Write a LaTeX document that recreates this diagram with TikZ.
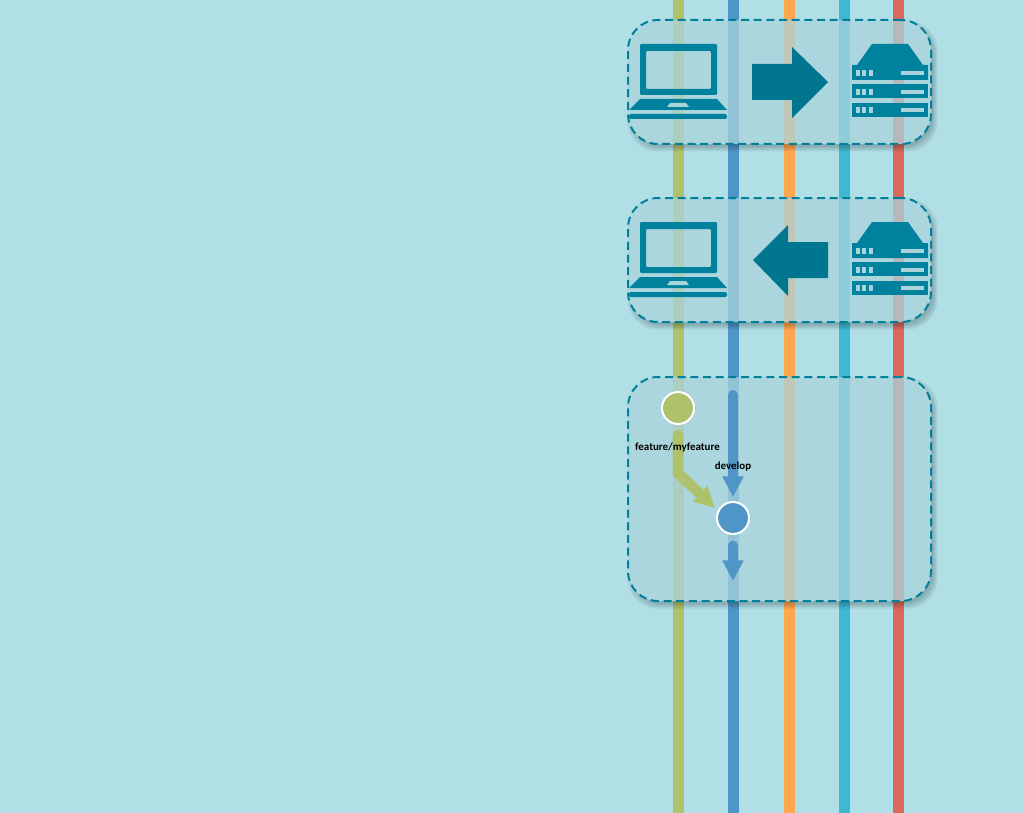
\documentclass[tikz,border=0pt]{standalone}
\usepackage{fontspec}
\setmainfont{Carlito}
\usepackage{xcolor}
\usetikzlibrary{positioning,calc,arrows.meta}

\definecolor{bgcolor}{HTML}{B0DFE6}
\definecolor{panelfill}{HTML}{ABD3DC}
\definecolor{tealicon}{HTML}{00829E}
\definecolor{tealarrow}{HTML}{007690}
\definecolor{tealdash}{HTML}{00809B}
\definecolor{branchgreen}{HTML}{AEC16B}
\definecolor{branchblue}{HTML}{4F95C8}
\definecolor{branchorange}{HTML}{FFA64F}
\definecolor{branchcyan}{HTML}{3FB8D4}
\definecolor{branchred}{HTML}{D9695B}

\tikzset{
    branch/.style={line width=8.25pt},
    panel/.style={rectangle, draw=tealdash, fill=panelfill, fill opacity=0.75, line width=1.5pt,
        dash pattern=on 6pt off 3.5pt, rounded corners=22.5pt, minimum width=227.25pt, inner sep=0pt},
    commit/.style={circle, draw=white, line width=1.5pt, minimum size=24pt, inner sep=0pt},
    flowgreen/.style={branchgreen, line width=8pt, line cap=round, line join=miter,
        -{Triangle[length=15.5pt,width=15pt]}},
    flowblue/.style={branchblue, line width=7.5pt, line cap=round,
        -{Triangle[length=15.5pt,width=15pt]}},
    tag/.style={font=\bfseries\fontsize{8.2}{9}\selectfont, text=black, inner sep=0pt}
}

% soft shadow round a panel, top and bottom in pixels
\newcommand{\panelshadow}[2]{
    \begin{scope}[even odd rule, rounded corners=22.5pt]
        \clip (-100,-100) rectangle (1124,913) (628,#1) rectangle (931,#2);
        \foreach \g in {3.5,2,0.5,-1}
            \fill[black, opacity=0.06] (631-\g,#1+4-\g) rectangle (934+\g,#2+4+\g);
    \end{scope}
}

\newcommand{\laptopicon}[1]{
    \begin{scope}[shift={(0,#1)}]
        \fill[tealicon, even odd rule, rounded corners=0.8pt] (640,44) rectangle (717,95)
            (646,51) rectangle (711,89);
        \fill[tealicon] (640,99) -- (717,99) -- (727,110) -- (629,110) -- cycle;
        \fill[panelfill] (670,103) -- (686,103) -- (689,107) -- (667,107) -- cycle;
        \fill[tealicon, rounded corners=1.5pt] (629,114) rectangle (727,119);
    \end{scope}
}

\newcommand{\servericon}[1]{
    \begin{scope}[shift={(0,#1)}]
        \fill[tealicon] (872,44) -- (908,44) -- (923,65) -- (928,65) -- (928,80)
            -- (852,80) -- (852,65) -- (857,65) -- cycle;
        \fill[tealicon] (852,84) rectangle (928,98);
        \fill[tealicon] (852,103) rectangle (928,117);
        \foreach \y in {70,89,107} {
            \foreach \x in {856,862,869}
                \fill[panelfill] (\x,\y) rectangle ++(4,6);
            \fill[panelfill] (901,\y+1) rectangle ++(23,4);
        }
    \end{scope}
}

\begin{document}
\begin{tikzpicture}[x=0.75pt, y=-0.75pt]
    \useasboundingbox (0,0) rectangle (1024,813);
    \fill[bgcolor] (0,0) rectangle (1024,813);

    % Branches
    \foreach \nm/\x/\col in {feature/678.5/branchgreen, develop/733/branchblue,
        release/789/branchorange, hotfix/844/branchcyan, master/898.5/branchred} {
        \coordinate (\nm Top) at (\x,0);
        \coordinate (\nm Bot) at (\x,813);
        \draw[branch, \col] (\nm Top) -- (\nm Bot);
    }

    % Panels
    \panelshadow{20}{144}
    \panelshadow{198}{322}
    \panelshadow{377}{601}
    \node[panel, minimum height=93pt] (pushPanel) at (779.5,82) {};
    \node[panel, minimum height=93pt] (pullPanel) at (779.5,260) {};
    \node[panel, minimum height=168pt] (mergePanel) at (779.5,489) {};

    % Push
    \laptopicon{0}
    \servericon{0}
    \fill[tealarrow] (752,64) -- (792,64) -- (792,47) -- (828,82) -- (792,118) -- (792,100) -- (752,100) -- cycle;

    % Pull
    \laptopicon{178}
    \servericon{178}
    \fill[tealarrow] (828,242) -- (788,242) -- (788,225) -- (753,260) -- (788,296) -- (788,278) -- (828,278) -- cycle;

    % Merge
    \node[commit, fill=branchgreen] (featureCommit) at (678,408) {};
    \node[commit, fill=branchblue] (developCommit) at (733,518) {};
    \coordinate (developIn) at (733,395);
    \coordinate (developOut) at (733,581);
    \coordinate (featureBend) at (678,473);
    \draw[flowgreen] ([yshift=-7.5pt]featureCommit.south) -- (featureBend) -- ([xshift=-4.5pt,yshift=-1.5pt]developCommit.north west);
    \draw[flowblue] (developIn) -- ([yshift=3pt]developCommit.north);
    \draw[flowblue] ([yshift=-8pt]developCommit.south) -- (developOut);
    \node[tag] (featureTag) at (677.5,447.5) {feature/myfeature};
    \node[tag] (developTag) at (733,466.5) {develop};
\end{tikzpicture}
\end{document}
